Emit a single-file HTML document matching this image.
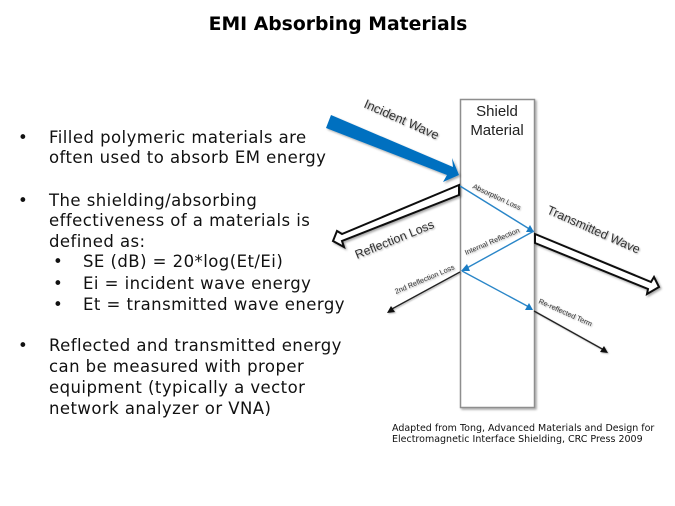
<!DOCTYPE html>
<html><head><meta charset="utf-8">
<style>
html,body{margin:0;padding:0;background:#fff}
svg{display:block}
.b{font-family:"DejaVu Sans",sans-serif;font-size:16.5px;letter-spacing:.45px;fill:#111}
.d{font-family:"Liberation Sans",sans-serif;fill:#333}
</style></head><body>
<svg width="675" height="506" viewBox="0 0 675 506" xmlns="http://www.w3.org/2000/svg">
<defs>
<filter id="s" x="-20%" y="-20%" width="140%" height="140%"><feDropShadow dx="1.5" dy="1.5" stdDeviation="1" flood-color="#000" flood-opacity=".35"/></filter>
<filter id="t" x="-10%" y="-50%" width="120%" height="200%"><feDropShadow dx="1" dy="1" stdDeviation=".8" flood-color="#000" flood-opacity=".3"/></filter>
</defs>
<rect width="675" height="506" fill="#fff"/>
<text x="338" y="30" text-anchor="middle" font-family="DejaVu Sans,sans-serif" font-weight="bold" font-size="18.8" fill="#000">EMI Absorbing Materials</text>

<g class="b">
<text x="18" y="143">•</text><text x="49" y="143">Filled polymeric materials are</text>
<text x="49" y="163">often used to absorb EM energy</text>
<text x="18" y="206">•</text><text x="49" y="206">The shielding/absorbing</text>
<text x="49" y="226">effectiveness of a materials is</text>
<text x="49" y="247">defined as:</text>
<text x="53" y="267">•</text><text x="83" y="267">SE (dB) = 20*log(Et/Ei)</text>
<text x="53" y="289">•</text><text x="83" y="289">Ei = incident wave energy</text>
<text x="53" y="310">•</text><text x="83" y="310">Et = transmitted wave energy</text>
<text x="18" y="351">•</text><text x="49" y="351">Reflected and transmitted energy</text>
<text x="49" y="372">can be measured with proper</text>
<text x="49" y="393">equipment (typically a vector</text>
<text x="49" y="414">network analyzer or VNA)</text>
</g>

<rect x="460.5" y="99.5" width="74" height="308" fill="#fff" stroke="#8e8e8e" stroke-width="1.5" filter="url(#s)"/>
<text x="497" y="116" text-anchor="middle" class="d" font-size="15" style="fill:#222">Shield</text>
<text x="497" y="135" text-anchor="middle" class="d" font-size="15" style="fill:#222">Material</text>

<polygon points="331,115 453,167 452,158 459,175 443,182 447,175 326,128" fill="#0070c0" filter="url(#s)"/>

<polygon points="459,185 342,234 337,231 333,241 344,247 342,241 459,195" fill="#fff" stroke="#111" stroke-width="2" stroke-linejoin="miter" filter="url(#s)"/>
<polygon points="535,234 651,282 654,277 659,287 647,294 648,289 535,243" fill="#fff" stroke="#111" stroke-width="2" stroke-linejoin="miter" filter="url(#s)"/>

<g stroke="#2a86c8" stroke-width="1.4" fill="#1a7cc4">
<line x1="460" y1="186" x2="531" y2="230"/>
<polygon points="534,232 526,232 530,225" stroke="none"/>
<line x1="534" y1="231" x2="465" y2="269"/>
<polygon points="461,271 467,264 470,271" stroke="none"/>
<line x1="462" y1="271" x2="529" y2="307"/>
<polygon points="533,310 525,310 529,303" stroke="none"/>
</g>
<g stroke="#222" stroke-width="1.3" fill="#111" filter="url(#t)">
<line x1="534" y1="311" x2="604" y2="350"/>
<polygon points="608,353 600,352 604,346" stroke="none"/>
<line x1="460" y1="272" x2="390" y2="310"/>
<polygon points="387,313 391,306 395,312" stroke="none"/>
</g>

<g class="d" filter="url(#t)">
<text transform="translate(363,107) rotate(24)" font-size="12.8">Incident Wave</text>
<text transform="translate(357,259) rotate(-22)" font-size="12.3">Reflection Loss</text>
<text transform="translate(546,213) rotate(24)" font-size="12.5">Transmitted Wave</text>
<text transform="translate(472,188) rotate(25)" font-size="7.3">Absorption Loss</text>
<text transform="translate(466,255) rotate(-23)" font-size="7.3">Internal Reflection</text>
<text transform="translate(396,294) rotate(-23)" font-size="7.3">2nd Reflection Loss</text>
<text transform="translate(538,303) rotate(24)" font-size="7.3">Re-reflected Term</text>
</g>

<g font-family="DejaVu Sans,sans-serif" font-size="9.5" fill="#111">
<text x="392" y="431">Adapted from Tong, Advanced Materials and Design for</text>
<text x="392" y="442">Electromagnetic Interface Shielding, CRC Press 2009</text>
</g>
</svg>
</body></html>
